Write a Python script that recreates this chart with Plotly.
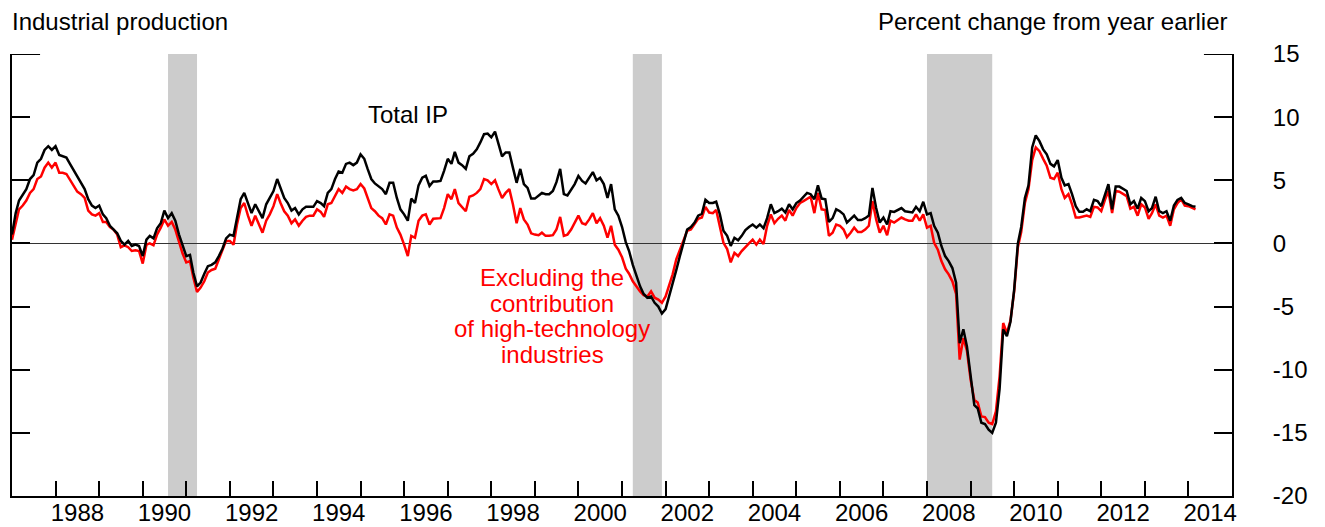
import pandas as pd
import plotly.graph_objects as go

# ---------------- data (monthly, 12-month percent change) ----------------
start_month = "1987-01-01"

total_ip = [
    0.7, 2.4, 3.4, 3.9, 4.3, 5.1, 5.4, 6.4, 6.7, 7.4, 7.7, 7.4,            # 1987
    7.7, 7.0, 6.9, 6.8, 6.3, 5.8, 5.2, 4.8, 4.3, 3.5, 3.0, 2.8,            # 1988
    3.0, 2.3, 2.0, 1.4, 1.1, 0.8, 0.2, -0.1, 0.2, -0.2, -0.1, -0.2,        # 1989
    -1.0, 0.3, 0.6, 0.4, 1.2, 1.6, 2.6, 2.0, 2.4, 1.8, 0.7, -0.2,          # 1990
    -1.0, -0.9, -2.3, -3.4, -3.1, -2.4, -1.8, -1.7, -1.5, -1.0, -0.4, 0.4, # 1991
    0.7, 0.6, 1.9, 3.5, 4.0, 3.2, 2.4, 3.1, 2.6, 2.0, 3.1, 3.6,            # 1992
    4.15, 5.1, 4.4, 3.6, 3.2, 2.6, 2.8, 2.3, 2.7, 2.9, 2.9, 2.9,           # 1993
    3.35, 3.2, 2.95, 4.0, 4.3, 5.1, 5.7, 5.6, 6.3, 6.4, 6.2, 6.4,          # 1994
    7.05, 6.7, 5.9, 5.1, 4.75, 4.5, 4.3, 3.9, 4.8, 4.8, 3.6, 2.7,          # 1995
    2.3, 1.8, 3.55, 3.2, 4.6, 5.2, 5.35, 4.55, 4.9, 4.9, 4.95, 5.75,       # 1996
    6.7, 6.3, 7.25, 6.4, 6.2, 5.9, 6.9, 7.1, 7.45, 8.0, 8.65, 8.7,         # 1997
    8.4, 8.85, 8.0, 6.9, 7.2, 7.2, 6.0, 4.8, 5.9, 4.7, 4.4, 3.55,          # 1998
    3.55, 3.75, 4.0, 3.9, 3.9, 4.15, 4.85, 5.9, 3.9, 3.8, 4.3, 4.7,        # 1999
    5.35, 4.95, 4.75, 5.2, 5.65, 5.0, 5.2, 4.7, 3.6, 4.7, 2.7, 2.2,        # 2000
    1.3, 0.1, -0.6, -1.7, -2.6, -3.4, -4.0, -4.3, -4.2, -4.7, -5.0, -5.55, # 2001
    -5.2, -4.2, -3.25, -2.1, -1.0, 0.1, 1.1, 1.3, 1.65, 2.2, 2.35, 3.45,   # 2002
    3.2, 3.2, 3.3, 2.3, 1.0, 0.6, -0.2, 0.45, 0.25, 0.6, 1.05, 1.3,        # 2003
    1.5, 1.25, 1.5, 1.2, 2.0, 3.1, 2.4, 2.55, 2.75, 2.45, 3.1, 2.7,        # 2004
    3.2, 3.4, 3.7, 4.0, 3.9, 3.5, 4.6, 3.55, 3.5, 1.7, 2.0, 2.7,           # 2005
    2.55, 2.3, 1.65, 1.95, 2.2, 1.85, 1.85, 2.0, 2.2, 4.4, 2.8, 1.65,      # 2006
    2.05, 1.5, 2.55, 2.5, 2.65, 2.8, 2.55, 2.5, 2.45, 2.9, 2.55, 3.3,      # 2007
    2.3, 2.4, 1.4, 0.85, -0.2, -1.0, -1.4, -1.95, -3.1, -7.9, -6.8, -8.15, # 2008
    -10.5, -12.8, -13.05, -14.2, -14.3, -14.75, -15.0, -14.2, -11.5, -6.8, -7.35, -6.2,  # 2009
    -3.65, 0.0, 1.3, 3.6, 4.6, 7.6, 8.55, 8.1, 7.45, 7.05, 6.3, 6.1,       # 2010
    6.6, 5.2, 4.6, 4.7, 3.9, 2.95, 2.5, 2.5, 2.7, 2.55, 3.45, 3.35,        # 2011
    2.95, 3.9, 4.7, 2.7, 4.5, 4.5, 4.3, 4.15, 3.1, 3.35, 2.75, 3.6,        # 2012
    3.35, 2.55, 2.8, 3.7, 2.55, 2.4, 2.55, 1.8, 3.0, 3.45, 3.6, 3.2,       # 2013
    3.1, 2.95, 2.9,                                                        # 2014
]

excl_high_tech = [
    0.3, 1.6, 2.7, 3.0, 3.4, 4.0, 4.3, 5.1, 5.3, 6.0, 6.4, 6.0,            # 1987
    6.4, 5.6, 5.6, 5.5, 5.0, 4.6, 4.1, 3.9, 3.6, 2.6, 2.3, 2.2,            # 1988
    2.4, 1.7, 1.7, 1.3, 1.1, 0.7, -0.3, -0.15, -0.3, -0.6, -0.55, -0.6,    # 1989
    -1.6, -0.1, 0.0, -0.15, 0.7, 1.25, 1.9, 1.4, 1.7, 1.1, 0.05, -0.8,     # 1990
    -1.5, -1.4, -2.7, -3.85, -3.5, -3.0, -2.3, -2.1, -2.0, -1.2, -0.5, 0.2,# 1991
    0.2, -0.1, 1.5, 2.8, 3.2, 2.2, 1.4, 2.2, 1.5, 0.85, 1.8, 2.3,          # 1992
    2.95, 3.9, 3.2, 2.55, 2.2, 1.6, 1.9, 1.4, 1.8, 2.1, 2.2, 2.2,          # 1993
    2.7, 2.5, 2.1, 3.1, 3.2, 3.75, 4.3, 4.0, 4.5, 4.3, 4.2, 4.3,           # 1994
    4.7, 4.35, 3.6, 2.8, 2.55, 2.2, 2.0, 1.5, 2.3, 2.2, 1.25, 0.7,         # 1995
    -0.1, -1.0, 0.6, 0.45, 1.8, 2.2, 2.3, 1.5, 1.95, 1.95, 2.0, 2.8,       # 1996
    3.9, 3.5, 4.3, 3.2, 2.9, 2.55, 3.7, 3.8, 4.0, 4.3, 5.1, 5.0,           # 1997
    4.7, 5.0, 4.3, 3.6, 4.0, 4.3, 3.1, 1.6, 2.8, 1.9, 1.5, 0.8,            # 1998
    0.7, 0.65, 0.85, 0.6, 0.6, 0.65, 1.1, 2.1, 0.6, 0.7, 1.1, 1.6,         # 1999
    2.2, 1.6, 1.5, 1.9, 2.4, 1.6, 2.0, 1.4, 0.45, 1.4, -0.1, -0.5,         # 2000
    -1.1, -2.0, -2.4, -3.0, -3.4, -3.8, -4.1, -4.2, -3.8, -4.3, -4.45, -4.7,  # 2001
    -4.2, -3.25, -2.45, -1.25, -0.5, 0.4, 1.0, 1.1, 1.5, 1.95, 2.05, 2.9,  # 2002
    2.45, 2.4, 2.65, 1.4, 0.05, -0.45, -1.5, -0.75, -1.0, -0.6, -0.25, 0.0,# 2003
    0.3, -0.1, 0.3, -0.05, 1.4, 2.3, 1.6, 1.95, 2.2, 1.8, 2.65, 2.2,       # 2004
    2.8, 3.2, 3.35, 3.5, 3.7, 2.4, 4.0, 2.7, 2.65, 0.6, 0.85, 1.5,         # 2005
    1.4, 1.1, 0.5, 0.85, 1.25, 0.9, 0.9, 1.1, 1.4, 3.35, 1.9, 0.85,        # 2006
    1.4, 0.65, 1.8, 1.65, 1.85, 2.05, 1.9, 1.8, 1.8, 2.3, 1.8, 2.3,        # 2007
    1.25, 1.4, 0.05, -0.5, -1.4, -2.05, -2.45, -3.0, -4.0, -9.2, -7.5, -8.5,   # 2008
    -10.8, -12.4, -12.6, -13.7, -13.75, -14.2, -14.3, -13.3, -10.5, -6.3, -7.1, -6.1,  # 2009
    -3.8, -0.3, 0.9, 3.2, 4.3, 6.6, 7.6, 7.3, 6.7, 6.15, 5.2, 5.1,         # 2010
    5.6, 4.3, 3.6, 3.9, 3.1, 2.05, 2.05, 2.1, 2.2, 2.1, 2.9, 2.85,         # 2011
    2.55, 3.45, 4.15, 2.4, 4.15, 4.1, 3.9, 3.75, 2.75, 2.9, 2.2, 3.1,      # 2012
    2.85, 1.95, 2.4, 3.1, 2.2, 2.05, 2.2, 1.4, 2.7, 3.2, 3.5, 3.0,         # 2013
    2.95, 2.85, 2.7,                                                       # 2014
]

recession_starts = ["1990-08-01", "2001-04-01", "2008-01-01"]
recession_ends = ["1991-04-01", "2001-12-01", "2009-07-01"]

tick_years = list(range(1988, 2015))          # tick marks at each year start
label_years = list(range(1988, 2015, 2))      # labels centred within the year
y_tick_values = [-20, -15, -10, -5, 0, 5, 10, 15]

series_total_name = "Total IP"
series_excl_lines = ["Excluding the", "contribution", "of high-technology", "industries"]

# ---------------- figure ----------------
dates = pd.date_range(start_month, periods=len(total_ip), freq="MS")
FONT = "Liberation Sans, Arial, sans-serif"
FS = 24

fig = go.Figure()
fig.add_trace(go.Scatter(x=dates, y=excl_high_tech, mode="lines",
                         line=dict(color="#FF0000", width=2.5), hoverinfo="skip",
                         showlegend=False))
fig.add_trace(go.Scatter(x=dates, y=total_ip, mode="lines",
                         line=dict(color="#000000", width=2.5), hoverinfo="skip",
                         showlegend=False))

shapes = []
for s, e in zip(recession_starts, recession_ends):
    shapes.append(dict(type="rect", xref="x", yref="paper", x0=s, x1=e, y0=0, y1=1,
                       fillcolor="#CCCCCC", line=dict(width=0), layer="below"))
# longer ticks at the top of both vertical axes
shapes.append(dict(type="line", xref="paper", yref="y", x0=0, x1=0.023, y0=15, y1=15,
                   line=dict(color="black", width=2)))
shapes.append(dict(type="line", xref="paper", yref="y", x0=0.977, x1=1, y0=15, y1=15,
                   line=dict(color="black", width=2)))

annotations = [
    dict(text="Industrial production", xref="paper", yref="paper", x=-0.0016, y=1.074,
         xanchor="left", yanchor="middle", showarrow=False,
         font=dict(family=FONT, size=FS, color="black")),
    dict(text="Percent change from year earlier", xref="paper", yref="paper", x=0.998, y=1.074,
         xanchor="right", yanchor="middle", showarrow=False,
         font=dict(family=FONT, size=FS, color="black")),
    dict(text=series_total_name, xref="x", yref="y", x="1996-02-05", y=10.2,
         xanchor="center", yanchor="middle", showarrow=False,
         font=dict(family=FONT, size=FS, color="black")),
]
line_y = [-2.7, -4.72, -6.75, -8.8]
for txt, yy in zip(series_excl_lines, line_y):
    annotations.append(dict(text=txt, xref="x", yref="y", x="1999-05-26", y=yy,
                            xanchor="center", yanchor="middle", showarrow=False,
                            font=dict(family=FONT, size=FS, color="#FF0000")))

# the page body has an 8px default margin, so the figure is drawn 8px smaller
fig.update_layout(
    width=1317, height=519,
    margin=dict(l=4, r=93, t=46, b=31, pad=0),
    paper_bgcolor="white", plot_bgcolor="white",
    font=dict(family=FONT, size=FS, color="black"),
    shapes=shapes, annotations=annotations,
    xaxis=dict(
        type="date", range=["1987-01-01", "2015-01-01"],
        tickmode="array",
        tickvals=[f"{y}-07-02" for y in label_years],
        ticktext=[str(y) for y in label_years],
        ticks="", showgrid=False, zeroline=False,
        showline=True, linecolor="black", linewidth=2,
        ticklabelstandoff=-6,
        tickfont=dict(family=FONT, size=FS, color="black"),
        minor=dict(tickmode="array", tickvals=[f"{y}-01-01" for y in tick_years],
                   ticks="inside", ticklen=15, tickwidth=2, tickcolor="black",
                   showgrid=False),
        automargin=False, fixedrange=True,
    ),
    yaxis=dict(
        range=[-20, 15], tickmode="array", tickvals=y_tick_values,
        ticktext=[str(v) for v in y_tick_values],
        side="right", ticks="inside", ticklen=18, tickwidth=2, tickcolor="black",
        showline=True, linecolor="black", linewidth=2, mirror="ticks",
        showgrid=False, zeroline=True, zerolinecolor="#333333", zerolinewidth=1,
        ticklabelstandoff=34,
        tickfont=dict(family=FONT, size=FS, color="black"),
        automargin=False, fixedrange=True,
    ),
)

fig.write_html("out.html")
